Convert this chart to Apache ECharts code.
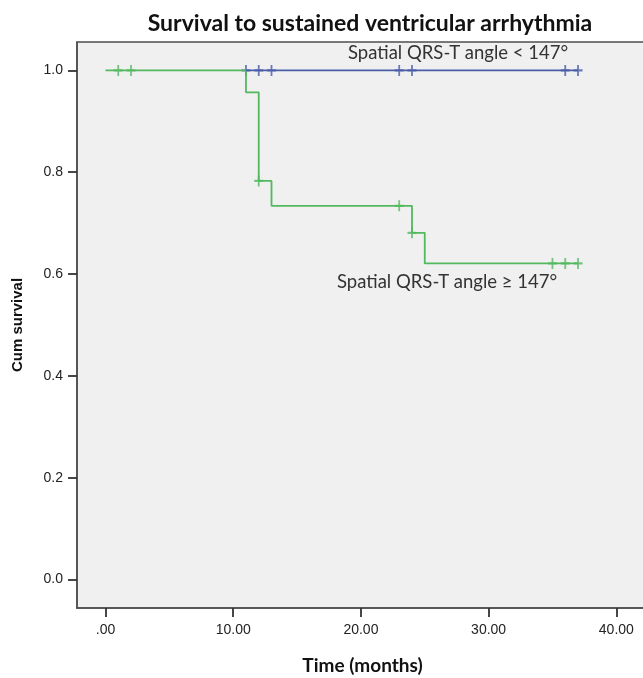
<!DOCTYPE html>
<html>
<head>
<meta charset="utf-8">
<title>Survival to sustained ventricular arrhythmia</title>
<script src="https://cdn.jsdelivr.net/npm/echarts@6/dist/echarts.min.js"></script>
<style>
  html, body { margin: 0; padding: 0; background: #fff; }
  #chart { width: 643px; height: 678px; }
</style>
</head>
<body>
<div id="chart"></div>
<script>
// Kaplan-Meier steps
const lowTimes = [11, 37];
const lowSurv = [1.0, 1.0];
const lowCensorTimes = [11, 12, 13, 23, 24, 36, 37];
const lowCensorSurv = [1.0, 1.0, 1.0, 1.0, 1.0, 1.0, 1.0];

const highTimes = [0, 11, 12, 13, 24, 25, 37];
const highSurv = [1.0, 0.957, 0.783, 0.734, 0.681, 0.621, 0.621];
const highCensorTimes = [1, 2, 12, 23, 24, 35, 36, 37];
const highCensorSurv = [1.0, 1.0, 0.783, 0.734, 0.681, 0.621, 0.621, 0.621];

const xTicks = [0, 10, 20, 30, 40];
const yTicks = [0, 0.2, 0.4, 0.6, 0.8, 1.0];

const BLUE = "#4a5da8";
const GREEN = "#52b95f";
const PLUS = "path://M4,0H6V4H10V6H6V10H4V6H0V4H4Z";

function pairs(xs, ys) {
  return xs.map((x, i) => [x, ys[i]]);
}

function options() {
  return {
    animation: false,
    backgroundColor: "#fff",
    title: {
      text: "Survival to sustained ventricular arrhythmia",
      left: 365,
      top: 7,
      textAlign: "center",
      textStyle: { fontFamily: "Lato", fontWeight: "bold", fontSize: 23, color: "#111" }
    },
    grid: {
      left: 77,
      top: 42,
      right: -5,
      bottom: 70,
      outerBoundsMode: "none",
      show: true,
      backgroundColor: "#f0f0f0",
      borderColor: "#4d4d4d",
      borderWidth: 1.5
    },
    xAxis: {
      type: "value",
      min: -2.23,
      max: 42.48,
      name: "Time (months)",
      nameLocation: "middle",
      nameGap: 48,
      nameTextStyle: { fontFamily: "Lato", fontWeight: "bold", fontSize: 19, color: "#111" },
      splitLine: { show: false },
      axisLine: { show: true, onZero: false, lineStyle: { color: "#4d4d4d", width: 1.5 } },
      axisTick: { show: true, customValues: xTicks, length: 9, lineStyle: { color: "#333", width: 1.8 } },
      axisLabel: {
        customValues: xTicks,
        margin: 15,
        fontFamily: "Liberation Sans",
        fontSize: 14,
        color: "#222",
        formatter: v => (v === 0 ? ".00" : v.toFixed(2))
      }
    },
    yAxis: {
      type: "value",
      min: -0.0558,
      max: 1.0558,
      name: "Cum survival",
      nameLocation: "middle",
      nameGap: 52,
      nameTextStyle: { fontFamily: "Liberation Sans", fontWeight: "bold", fontSize: 15, color: "#111" },
      splitLine: { show: false },
      axisLine: { show: true, onZero: false, lineStyle: { color: "#4d4d4d", width: 1.5 } },
      axisTick: { show: true, customValues: yTicks, length: 9, lineStyle: { color: "#333", width: 1.8 } },
      axisLabel: {
        customValues: yTicks,
        margin: 14,
        fontFamily: "Liberation Sans",
        fontSize: 14,
        color: "#222",
        formatter: v => v.toFixed(1)
      }
    },
    graphic: [
      {
        type: "text",
        left: 348,
        top: 44,
        style: { text: "Spatial QRS-T angle < 147°", font: "18.5px Lato", fill: "#333" }
      },
      {
        type: "text",
        left: 337,
        top: 273,
        style: { text: "Spatial QRS-T angle ≥ 147°", font: "18.5px Lato", fill: "#333" }
      }
    ],
    series: [
      {
        name: "Spatial QRS-T angle ≥ 147°",
        type: "line",
        step: "end",
        showSymbol: false,
        lineStyle: { color: GREEN, width: 1.8 },
        data: pairs(highTimes, highSurv)
      },
      {
        name: "censored ≥ 147°",
        type: "scatter",
        symbol: PLUS,
        symbolSize: [9, 11],
        itemStyle: { color: GREEN },
        data: pairs(highCensorTimes, highCensorSurv)
      },
      {
        name: "Spatial QRS-T angle < 147°",
        type: "line",
        step: "end",
        showSymbol: false,
        lineStyle: { color: BLUE, width: 1.8 },
        data: pairs(lowTimes, lowSurv)
      },
      {
        name: "censored < 147°",
        type: "scatter",
        symbol: PLUS,
        symbolSize: [9, 11],
        itemStyle: { color: BLUE },
        data: pairs(lowCensorTimes, lowCensorSurv)
      }
    ]
  };
}

const chart = echarts.init(document.getElementById("chart"));
chart.setOption(options(), true);
</script>
</body>
</html>
